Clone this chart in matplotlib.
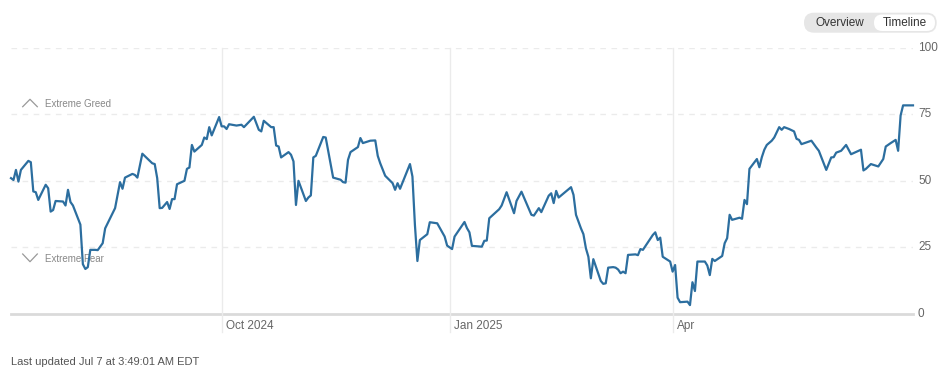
import matplotlib
matplotlib.use('Agg')
import matplotlib.pyplot as plt
import matplotlib.transforms as mtransforms
from matplotlib.patches import FancyBboxPatch
import pandas as pd

plt.rcParams['font.family'] = ['Liberation Sans', 'DejaVu Sans']

# ---------------- data ----------------
dates = [
    "2024-07-08", "2024-07-09", "2024-07-10", "2024-07-11", "2024-07-12",
    "2024-07-15", "2024-07-16", "2024-07-17", "2024-07-18", "2024-07-19",
    "2024-07-22", "2024-07-23", "2024-07-24", "2024-07-25", "2024-07-26",
    "2024-07-29", "2024-07-30", "2024-07-31", "2024-08-01", "2024-08-02",
    "2024-08-05", "2024-08-06", "2024-08-07", "2024-08-08", "2024-08-09",
    "2024-08-11", "2024-08-12", "2024-08-14", "2024-08-15", "2024-08-16",
    "2024-08-19", "2024-08-21", "2024-08-22", "2024-08-23", "2024-08-26",
    "2024-08-27", "2024-08-28", "2024-08-30", "2024-09-03", "2024-09-04",
    "2024-09-05", "2024-09-06", "2024-09-07", "2024-09-09", "2024-09-10",
    "2024-09-11", "2024-09-12", "2024-09-13", "2024-09-16", "2024-09-17",
    "2024-09-18", "2024-09-19", "2024-09-20", "2024-09-23", "2024-09-24",
    "2024-09-25", "2024-09-26", "2024-09-27", "2024-09-30",
    "2024-10-01", "2024-10-02", "2024-10-03", "2024-10-04", "2024-10-07",
    "2024-10-09", "2024-10-10", "2024-10-14", "2024-10-16", "2024-10-17",
    "2024-10-18", "2024-10-21", "2024-10-22", "2024-10-23", "2024-10-24",
    "2024-10-25", "2024-10-28", "2024-10-29", "2024-10-30", "2024-10-31",
    "2024-11-01", "2024-11-04", "2024-11-05", "2024-11-06", "2024-11-07",
    "2024-11-08", "2024-11-11", "2024-11-12", "2024-11-15", "2024-11-18",
    "2024-11-19", "2024-11-20", "2024-11-21", "2024-11-22", "2024-11-25",
    "2024-11-26", "2024-11-27", "2024-11-30", "2024-12-02", "2024-12-03",
    "2024-12-04", "2024-12-06", "2024-12-09", "2024-12-10", "2024-12-11",
    "2024-12-12", "2024-12-16", "2024-12-17", "2024-12-18", "2024-12-19",
    "2024-12-20", "2024-12-23", "2024-12-24", "2024-12-27", "2024-12-30",
    "2024-12-31",
    "2025-01-02", "2025-01-03", "2025-01-07", "2025-01-08", "2025-01-09",
    "2025-01-10", "2025-01-14", "2025-01-15", "2025-01-16", "2025-01-17",
    "2025-01-21", "2025-01-22", "2025-01-24", "2025-01-27", "2025-01-28",
    "2025-01-30", "2025-02-03", "2025-02-04", "2025-02-06", "2025-02-07",
    "2025-02-10", "2025-02-11", "2025-02-12", "2025-02-13", "2025-02-14",
    "2025-02-19", "2025-02-20", "2025-02-21", "2025-02-23", "2025-02-24",
    "2025-02-25", "2025-02-26", "2025-02-27", "2025-02-28", "2025-03-03",
    "2025-03-04", "2025-03-05", "2025-03-06", "2025-03-08", "2025-03-09",
    "2025-03-10", "2025-03-11", "2025-03-12", "2025-03-13", "2025-03-14",
    "2025-03-17", "2025-03-18", "2025-03-19", "2025-03-20", "2025-03-24",
    "2025-03-25", "2025-03-26", "2025-03-27", "2025-03-28", "2025-03-31",
    "2025-04-01", "2025-04-02", "2025-04-03", "2025-04-04", "2025-04-07",
    "2025-04-08", "2025-04-09", "2025-04-10", "2025-04-11", "2025-04-14",
    "2025-04-15", "2025-04-16", "2025-04-17", "2025-04-18", "2025-04-21",
    "2025-04-22", "2025-04-23", "2025-04-24", "2025-04-25", "2025-04-28",
    "2025-04-29", "2025-04-30", "2025-05-01", "2025-05-02", "2025-05-05",
    "2025-05-06", "2025-05-07", "2025-05-08", "2025-05-09", "2025-05-11",
    "2025-05-12", "2025-05-14", "2025-05-15", "2025-05-16", "2025-05-18",
    "2025-05-20", "2025-05-21", "2025-05-22", "2025-05-23", "2025-05-27",
    "2025-05-29", "2025-05-30", "2025-06-02", "2025-06-04", "2025-06-05",
    "2025-06-06", "2025-06-08", "2025-06-10", "2025-06-12", "2025-06-16",
    "2025-06-17", "2025-06-18", "2025-06-20", "2025-06-23", "2025-06-25",
    "2025-06-26", "2025-06-28", "2025-06-30", "2025-07-01", "2025-07-02",
    "2025-07-03", "2025-07-07",
]
values = [
    51.0, 50.3, 54.1, 49.7, 54.1,
    57.5, 57.0, 46.0, 45.7, 42.8,
    48.5, 47.2, 38.4, 39.0, 42.4,
    42.2, 40.7, 46.6, 42.0, 40.7,
    33.5, 18.6, 16.8, 17.5, 24.0,
    24.0, 23.9, 26.5, 32.1, 34.0,
    39.7, 49.5, 47.0, 51.2, 52.6,
    52.2, 51.2, 60.2, 56.6, 56.3,
    51.0, 39.7, 39.8, 42.0, 39.4,
    43.1, 43.1, 48.7, 50.0, 54.5,
    55.0, 63.5, 61.0, 63.5, 66.3,
    65.7, 70.2, 67.1, 74.0,
    70.5, 70.5, 69.5, 71.3, 70.8,
    71.1, 70.2, 74.1, 69.2, 68.6,
    72.6, 70.2, 70.2, 63.3, 62.9,
    58.8, 60.8, 59.8, 57.3, 40.9,
    50.0, 42.4, 43.7, 44.5, 58.8,
    59.4, 66.5, 66.3, 51.2, 50.4,
    49.5, 49.3, 57.9, 60.8, 62.7,
    66.1, 64.2, 65.1, 65.2, 59.4,
    56.6, 51.9, 49.1, 46.6, 49.1,
    47.0, 56.3, 51.6, 33.4, 19.8,
    27.7, 29.9, 34.4, 34.0, 29.0,
    25.6,
    24.3, 29.0, 34.5, 32.2, 30.6,
    25.5, 25.2, 27.4, 27.5, 35.9,
    39.3, 40.7, 45.7, 37.8, 42.4,
    45.9, 37.2, 36.9, 39.7, 38.2,
    44.4, 45.3, 41.6, 46.2, 43.7,
    47.6, 44.7, 37.2, 32.1, 29.9,
    24.6, 21.4, 13.3, 20.5, 12.3,
    11.2, 11.4, 17.3, 17.5, 17.3,
    16.6, 15.2, 15.8, 15.2, 22.1,
    22.3, 22.0, 24.3, 24.0, 29.6,
    30.6, 27.7, 28.6, 21.4, 19.6,
    15.8, 18.3, 6.0, 4.3, 4.5,
    3.2, 11.8, 8.5, 19.6, 19.6,
    18.1, 14.5, 20.6, 19.8, 21.7,
    26.5, 28.4, 37.2, 35.3, 36.1,
    35.7, 42.8, 41.2, 54.5, 58.2,
    55.1, 58.9, 61.7, 63.5, 65.1,
    66.3, 70.2, 69.2, 70.2, 69.5,
    68.6, 65.8, 65.4, 63.8, 65.1,
    62.5, 61.3, 54.1, 58.8, 58.9,
    60.6, 61.3, 63.5, 60.0, 61.7,
    53.9, 54.5, 56.3, 55.4, 58.2,
    62.9, 64.2, 65.4, 61.3, 74.6,
    78.4, 78.4,
]
x_range = ["2024-07-08", "2025-07-07"]
month_ticks = ["2024-10-01", "2025-01-01", "2025-04-01"]
month_labels = ["Oct 2024", "Jan 2025", "Apr"]
y_ticks = [0, 25, 50, 75, 100]
zone_labels = ["Extreme Greed", "Extreme Fear"]
updated_text = "Last updated Jul 7 at 3:49:01 AM EDT"
toggle_labels = ["Overview", "Timeline"]

# ---------------- figure ----------------
W, H = 952, 371
fig = plt.figure(figsize=(W / 100, H / 100), dpi=100)
fig.patch.set_facecolor("white")
L, R, T, B = 11, 913, 48, 313.6
ax = fig.add_axes([L / W, 1 - B / H, (R - L) / W, (B - T) / H])
ax.set_xlim(pd.Timestamp(x_range[0]), pd.Timestamp(x_range[1]))
ax.set_ylim(0, 100)
for s in ax.spines.values():
    s.set_visible(False)
ax.set_xticks([])
ax.set_yticks([])

# horizontal grid
for v in y_ticks[1:]:
    ax.axhline(v, color="#ebebeb", lw=1, ls=(0, (4, 4)), zorder=1)
ax.axhline(0, color="#dadada", lw=2, zorder=1, clip_on=False)

# vertical month lines + labels
xt = ax.get_xaxis_transform()
lab_tr = mtransforms.offset_copy(xt, fig=fig, x=4, y=0, units="dots")
for d, lab in zip(month_ticks, month_labels):
    dt = pd.Timestamp(d)
    ax.plot([dt, dt], [-0.07, 1.0], transform=xt, color="#ebebeb", lw=1,
            clip_on=False, zorder=1)
    ax.text(dt, -0.047, lab, transform=lab_tr, ha="left", va="center",
            fontsize=8.5, color="#666666")

# right-side y labels
yt = ax.get_yaxis_transform()
ylab_tr = mtransforms.offset_copy(yt, fig=fig, x=5, y=0, units="dots")
for v in y_ticks:
    ax.text(1.0, v, str(v), transform=ylab_tr, ha="left", va="center",
            fontsize=8.5, color="#666666")

# the index line
ax.plot(pd.to_datetime(dates), values, color="#2c6e9f", lw=1.6,
        solid_joinstyle="round", clip_on=False, zorder=3)

# zone markers (chevrons + labels), in axes-fraction coordinates
def px_to_axes(px, py):
    return (px - L) / (R - L), (B - py) / (B - T)

up = [px_to_axes(22.7, 106.7), px_to_axes(30, 99.3), px_to_axes(37.3, 106.7)]
dn = [px_to_axes(22.7, 254), px_to_axes(30, 261.7), px_to_axes(37.3, 254)]
for pts in (up, dn):
    ax.plot([p[0] for p in pts], [p[1] for p in pts], transform=ax.transAxes,
            color="#999999", lw=0.9, clip_on=False, zorder=2)
gx, gy = px_to_axes(45, 104.3)
fx, fy = px_to_axes(45, 259)
ax.text(gx, gy, zone_labels[0], transform=ax.transAxes, ha="left", va="center",
        fontsize=7, color="#888888")
ax.text(fx, fy, zone_labels[1], transform=ax.transAxes, ha="left", va="center",
        fontsize=7, color="#888888", zorder=2)

# ---------------- overlay (pixel coordinates) for UI elements ----------------
ov = fig.add_axes([0, 0, 1, 1])
ov.set_xlim(0, W)
ov.set_ylim(H, 0)
ov.axis("off")
ov.patch.set_alpha(0)

outer = FancyBboxPatch((804, 12.7), 132.7, 20, boxstyle="round,pad=0,rounding_size=10",
                       fc="#e6e6e6", ec="none")
inner = FancyBboxPatch((874, 14.5), 61, 16.5, boxstyle="round,pad=0,rounding_size=8.2",
                       fc="white", ec="none")
ov.add_patch(outer)
ov.add_patch(inner)
ov.text(840, 23.3, toggle_labels[0], ha="center", va="center", fontsize=8.5, color="#333333")
ov.text(905, 23.3, toggle_labels[1], ha="center", va="center", fontsize=8.5, color="#333333")

ov.text(11, 362, updated_text, ha="left", va="center", fontsize=8, color="#555555")

fig.savefig("out.png", dpi=100, facecolor="white")
